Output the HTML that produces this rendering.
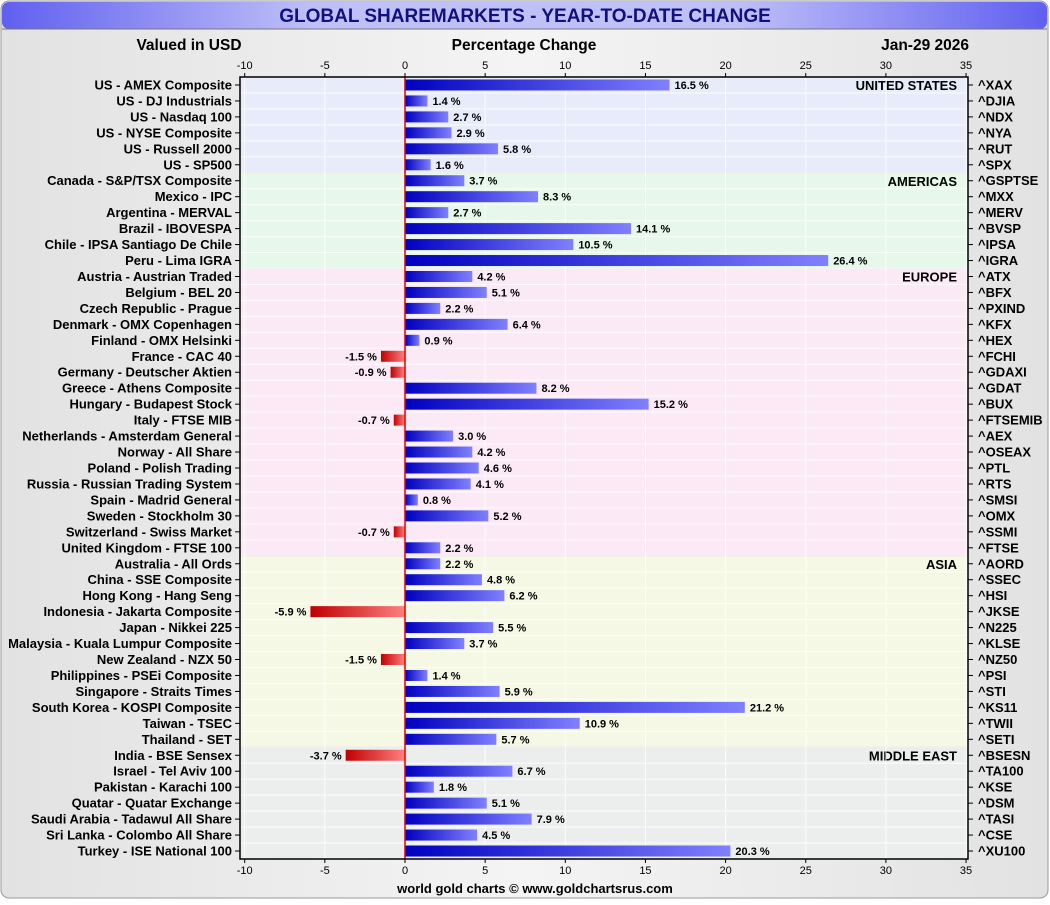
<!DOCTYPE html>
<html><head><meta charset="utf-8"><style>
body{margin:0;background:#fff;font-family:"Liberation Sans",Arial,sans-serif}
svg text{font-family:"Liberation Sans",Arial,sans-serif}
</style></head><body>
<svg id="c" width="1050" height="900" xmlns="http://www.w3.org/2000/svg">
<defs>
<linearGradient id="bg" x1="0" x2="1" y1="0" y2="0"><stop offset="0" stop-color="#e2e2e2"/><stop offset="0.5" stop-color="#f4f4f4"/><stop offset="1" stop-color="#e2e2e2"/></linearGradient>
<linearGradient id="tb" x1="0" x2="1"><stop offset="0" stop-color="#6060f0"/><stop offset="0.3" stop-color="#c0c0f8"/><stop offset="0.7" stop-color="#c0c0f8"/><stop offset="1" stop-color="#6060f0"/></linearGradient>
<linearGradient id="gb" x1="0" x2="1"><stop offset="0" stop-color="#0000c0"/><stop offset="1" stop-color="#8080ff"/></linearGradient>
<linearGradient id="gr" x1="0" x2="1"><stop offset="0" stop-color="#c00000"/><stop offset="1" stop-color="#ff8080"/></linearGradient>
</defs>
<rect x="1" y="1" width="1047" height="897" rx="8" fill="url(#bg)" stroke="#999"/>
<rect x="2" y="2" width="1045" height="27" rx="7" fill="url(#tb)"/>
<line x1="2" y1="29" x2="1047" y2="29" stroke="#777"/>
<text x="525" y="22" text-anchor="middle" font-size="19" font-weight="bold" fill="#101080">GLOBAL SHAREMARKETS - YEAR-TO-DATE CHANGE</text>
<text x="189" y="50" text-anchor="middle" font-size="15.5" font-weight="bold">Valued in USD</text>
<text x="524" y="50" text-anchor="middle" font-size="15.5" font-weight="bold">Percentage Change</text>
<text x="969" y="50" text-anchor="end" font-size="15.5" font-weight="bold">Jan-29  2026</text>
<text x="535" y="893" text-anchor="middle" font-size="13" font-weight="bold">world gold charts © www.goldchartsrus.com</text>
<g id="plot"></g>
</svg>
<script>
const names=["US - AMEX Composite","US - DJ Industrials","US - Nasdaq 100","US - NYSE Composite","US - Russell 2000","US - SP500","Canada - S&P/TSX Composite","Mexico - IPC","Argentina - MERVAL","Brazil - IBOVESPA","Chile - IPSA Santiago De Chile","Peru - Lima IGRA","Austria - Austrian Traded","Belgium - BEL 20","Czech Republic - Prague","Denmark - OMX Copenhagen","Finland - OMX Helsinki","France - CAC 40","Germany - Deutscher Aktien","Greece - Athens Composite","Hungary - Budapest Stock","Italy - FTSE MIB","Netherlands - Amsterdam General","Norway - All Share","Poland - Polish Trading","Russia - Russian Trading System","Spain - Madrid General","Sweden - Stockholm 30","Switzerland - Swiss Market","United Kingdom - FTSE 100","Australia - All Ords","China - SSE Composite","Hong Kong - Hang Seng","Indonesia - Jakarta Composite","Japan - Nikkei 225","Malaysia - Kuala Lumpur Composite","New Zealand - NZX 50","Philippines - PSEi Composite","Singapore - Straits Times","South Korea - KOSPI Composite","Taiwan - TSEC","Thailand - SET","India - BSE Sensex","Israel - Tel Aviv 100","Pakistan - Karachi 100","Quatar - Quatar Exchange","Saudi Arabia - Tadawul All Share","Sri Lanka - Colombo All Share","Turkey - ISE National 100"];
const tickers=["^XAX","^DJIA","^NDX","^NYA","^RUT","^SPX","^GSPTSE","^MXX","^MERV","^BVSP","^IPSA","^IGRA","^ATX","^BFX","^PXIND","^KFX","^HEX","^FCHI","^GDAXI","^GDAT","^BUX","^FTSEMIB","^AEX","^OSEAX","^PTL","^RTS","^SMSI","^OMX","^SSMI","^FTSE","^AORD","^SSEC","^HSI","^JKSE","^N225","^KLSE","^NZ50","^PSI","^STI","^KS11","^TWII","^SETI","^BSESN","^TA100","^KSE","^DSM","^TASI","^CSE","^XU100"];
const values=[16.5,1.4,2.7,2.9,5.8,1.6,3.7,8.3,2.7,14.1,10.5,26.4,4.2,5.1,2.2,6.4,0.9,-1.5,-0.9,8.2,15.2,-0.7,3.0,4.2,4.6,4.1,0.8,5.2,-0.7,2.2,2.2,4.8,6.2,-5.9,5.5,3.7,-1.5,1.4,5.9,21.2,10.9,5.7,-3.7,6.7,1.8,5.1,7.9,4.5,20.3];
const regions=["UNITED STATES","AMERICAS","EUROPE","ASIA","MIDDLE EAST"];
const regionCounts=[6,6,18,12,7];
const regionColors=["#e8ecfa","#e6f8ea","#fbeaf6","#f6f8e6","#eceeee"];
const ticks=[-10,-5,0,5,10,15,20,25,30,35];
const NS="http://www.w3.org/2000/svg";
const g=document.getElementById('plot');
const L=240,R=968,T=77,B=859,x0=405,ppu=16.03;
const X=v=>x0+v*ppu;
const rowH=(B-T)/names.length;
const Y=i=>T+rowH*(i+0.5);
function el(t,a,txt){const e=document.createElementNS(NS,t);for(const k in a)e.setAttribute(k,a[k]);if(txt!=null)e.textContent=txt;g.appendChild(e);return e;}
let s=0;
regions.forEach((r,k)=>{
  const e=el('rect',{x:L,y:T+s*rowH,width:R-L,height:regionCounts[k]*rowH,fill:regionColors[k]});
  
  const t=el('text',{x:957,y:T+s*rowH+13,'text-anchor':'end','font-size':13,'font-weight':'bold'},r);
  
  if(k>0){el('line',{x1:L,x2:R,y1:T+s*rowH,y2:T+s*rowH,stroke:'#c8c8c8'});}
  s+=regionCounts[k];
});
for(let i=0;i<=names.length;i++){el('line',{x1:L,x2:R,y1:T+i*rowH,y2:T+i*rowH,stroke:'#ffffff','stroke-opacity':0.8});}
ticks.forEach(t=>{
  el('line',{x1:X(t),x2:X(t),y1:T,y2:B,stroke:'#ffffff','stroke-opacity':0.8});
  el('line',{x1:X(t),x2:X(t),y1:T-4,y2:T,stroke:'#000'});
  el('line',{x1:X(t),x2:X(t),y1:B,y2:B+4,stroke:'#000'});
  const a=el('text',{x:X(t),y:T-8,'text-anchor':'middle','font-size':11},t);
  
  const b=el('text',{x:X(t),y:B+15,'text-anchor':'middle','font-size':11},t);
  
});
names.forEach((n,i)=>{
  const y=Y(i),v=values[i];
  el('line',{x1:L-5,x2:L,y1:y,y2:y,stroke:'#000'});
  el('line',{x1:R,x2:R+5,y1:y,y2:y,stroke:'#000'});
  const lb=el('text',{x:L-8,y:y+4.5,'text-anchor':'end','font-size':13,'font-weight':'bold'},n);
  
  const tk=el('text',{x:R+10,y:y+4.5,'font-size':13,'font-weight':'bold'},tickers[i]);
  
  const bx=Math.min(X(0),X(v)),bw=Math.abs(X(v)-X(0));
  const bar=el('rect',{x:bx,y:y-5.5,width:bw,height:11,fill:v>=0?'url(#gb)':'url(#gr)'});
  
  const vt=el('text',{x:v>=0?X(v)+5:X(v)-4,y:y+4,'text-anchor':v>=0?'start':'end','font-size':11,'font-weight':'bold'},v.toFixed(1)+' %');
  
});
el('line',{x1:X(0),x2:X(0),y1:T,y2:B,stroke:'#e00000','stroke-width':1.5});
const f=el('rect',{x:L,y:T,width:R-L,height:B-T,fill:'none',stroke:'#000','stroke-width':1.5});

</script>
</body></html>
